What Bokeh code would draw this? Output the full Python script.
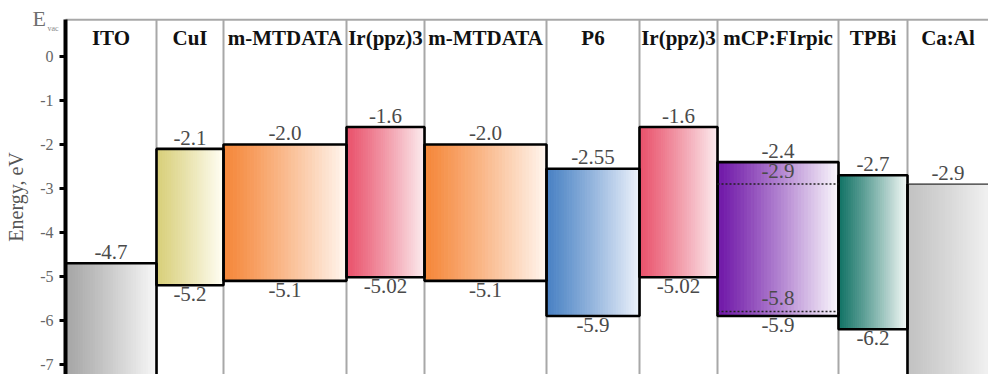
from bokeh.plotting import figure
from bokeh.models import Range1d, FixedTicker, ColumnDataSource
from bokeh.embed import file_html
from bokeh.resources import INLINE

# ---------------- data ----------------
layers = ["ITO", "CuI", "m-MTDATA", "Ir(ppz)3", "m-MTDATA", "P6",
          "Ir(ppz)3", "mCP:FIrpic", "TPBi", "Ca:Al"]
lumo = [-4.7, -2.1, -2.0, -1.6, -2.0, -2.55, -1.6, -2.4, -2.7, -2.9]
homo = [None, -5.2, -5.1, -5.02, -5.1, -5.9, -5.02, -5.9, -6.2, None]
lumo_labels = ["-4.7", "-2.1", "-2.0", "-1.6", "-2.0", "-2.55", "-1.6", "-2.4", "-2.7", "-2.9"]
homo_labels = ["", "-5.2", "-5.1", "-5.02", "-5.1", "-5.9", "-5.02", "-5.9", "-6.2", ""]
dopant_levels = [-2.9, -5.8]          # FIrpic inside mCP
dopant_labels = ["-2.9", "-5.8"]
dopant_layer = 7
y_ticks = [0, -1, -2, -3, -4, -5, -6, -7]

# ---------------- layout / style ----------------
column_widths = [91, 67, 123, 78, 122, 93, 78, 121, 69, 81]
start_colors = ["#a6a6a6", "#d8cf7a", "#f5873a", "#e9526c", "#f5873a",
                "#4a82c4", "#e9526c", "#7019a8", "#137366", "#c2c2c2"]
end_colors = ["#f6f6f6", "#fffdf2", "#fff4ec", "#fbe9ec", "#fff4ec",
              "#eaf0fa", "#fbe9ec", "#f8f4fb", "#f0f6f4", "#f0f0f0"]

BOX_TOP = 0.84                 # top edge of the table of layers
Y_TOP, Y_BOT = 1.275, -7.23    # visible energy range
FONT = "Liberation Serif"
LABEL_LIFT = 0.1    # eV gap between a level and the label above it
LEFT_MARGIN = 65    # room left of the energy axis (x units = pixels)

bounds = [0]
for w in column_widths:
    bounds.append(bounds[-1] + w)
X_MAX = bounds[-1]

p = figure(width=988, height=374, output_backend="svg", toolbar_location=None,
           x_range=Range1d(-LEFT_MARGIN, X_MAX), y_range=Range1d(Y_BOT, Y_TOP),
           x_axis_location=None, min_border_left=0, min_border_top=0,
           min_border_bottom=0, min_border_right=0)
p.outline_line_color = None
p.grid.visible = False
p.background_fill_color = "white"


def hex2rgb(h):
    h = h.lstrip("#")
    return [int(h[i:i + 2], 16) for i in (0, 2, 4)]


def lerp(c1, c2, t):
    a, b = hex2rgb(c1), hex2rgb(c2)
    return "#%02x%02x%02x" % tuple(int(round(a[k] + (b[k] - a[k]) * t)) for k in range(3))


# separators (behind boxes)
p.segment(x0=bounds[1:-1], x1=bounds[1:-1], y0=[Y_BOT - 1] * (len(bounds) - 2),
          y1=[BOX_TOP] * (len(bounds) - 2), line_color="#a8a8a8", line_width=2)
p.segment(x0=[0], x1=[X_MAX + 5], y0=[BOX_TOP], y1=[BOX_TOP],
          line_color="#a8a8a8", line_width=2)

# gradient strips
N = 36
sl, sr, st, sb, sc = [], [], [], [], []
for i in range(len(layers)):
    L, R = bounds[i], bounds[i + 1]
    T = lumo[i]
    B = homo[i] if homo[i] is not None else Y_BOT - 1
    for k in range(N):
        t = k / (N - 1)
        sl.append(L + (R - L) * k / N)
        sr.append(L + (R - L) * (k + 1) / N)
        st.append(T)
        sb.append(B)
        sc.append(lerp(start_colors[i], end_colors[i], t ** 1.1))
src = ColumnDataSource(dict(left=sl, right=sr, top=st, bottom=sb, color=sc))
p.quad(left="left", right="right", top="top", bottom="bottom", source=src,
       fill_color="color", line_color="color", line_width=1)

# box borders
bl, br, bt, bb = [], [], [], []
for i in range(len(layers) - 1):
    bl.append(bounds[i]); br.append(bounds[i + 1])
    bt.append(lumo[i]); bb.append(homo[i] if homo[i] is not None else Y_BOT - 1)
p.quad(left=bl, right=br, top=bt, bottom=bb, fill_color=None,
       line_color="black", line_width=2.6)
# cathode
last = len(layers) - 1
p.segment(x0=[bounds[last]], x1=[X_MAX], y0=[lumo[last]], y1=[lumo[last]],
          line_color="#333333", line_width=1.3)
p.segment(x0=[bounds[last]], x1=[bounds[last]], y0=[lumo[last]], y1=[Y_BOT - 1],
          line_color="black", line_width=2.6)

# dopant dotted levels
dl = bounds[dopant_layer]; dr = bounds[dopant_layer + 1]
p.segment(x0=[dl] * 2, x1=[dr] * 2, y0=dopant_levels, y1=dopant_levels,
          line_color="#222222", line_width=1.5, line_dash="2 2")

# text
cx = [(bounds[i] + bounds[i + 1]) / 2 for i in range(len(layers))]
p.text(x=cx, y=[0.42] * len(layers), text=layers,
       text_align="center", text_baseline="middle", text_font_size="21px",
       text_font_style="bold", text_color="#111111",
       text_font={"value": FONT})
p.text(x=cx, y=[v + LABEL_LIFT for v in lumo], text=lumo_labels,
       text_align="center", text_baseline="bottom", text_font_size="21px",
       text_color="#4a4a4a", text_font={"value": FONT})
hx = [cx[i] for i in range(len(layers)) if homo[i] is not None]
hy = [homo[i] - 0.04 for i in range(len(layers)) if homo[i] is not None]
ht = [homo_labels[i] for i in range(len(layers)) if homo[i] is not None]
p.text(x=hx, y=hy, text=ht, text_align="center", text_baseline="top",
       text_font_size="21px", text_color="#4a4a4a", text_font={"value": FONT})
p.text(x=[cx[dopant_layer]] * 2, y=[v + LABEL_LIFT + 0.04 for v in dopant_levels],
       text=dopant_labels, text_align="center", text_baseline="bottom",
       text_font_size="21px", text_color="#4a4a4a", text_font={"value": FONT})

# "E_vac" marker at the top of the energy axis
p.text(x=[-33], y=[0.58], text=["E"], text_align="left", text_baseline="bottom",
       text_font_size="22px", text_color="#6f6f6f", text_font={"value": FONT})
p.text(x=[-18], y=[0.53], text=["vac"], text_align="left", text_baseline="bottom",
       text_font_size="8px", text_color="#888888", text_font={"value": FONT})

# y axis, pinned at the left edge of the layer stack
ax = p.yaxis[0]
ax.fixed_location = 0
ax.bounds = (Y_BOT - 1, BOX_TOP)
ax.ticker = FixedTicker(ticks=y_ticks)
ax.major_label_overrides = {t: str(t) for t in y_ticks}
ax.axis_line_width = 4
ax.axis_line_color = "black"
ax.major_tick_line_width = 3
ax.major_tick_out = 6
ax.major_tick_in = 0
ax.minor_tick_line_color = None
ax.major_label_text_font = FONT
ax.major_label_text_font_size = "16px"
ax.major_label_text_color = "#666666"
ax.major_label_standoff = 6
ax.axis_label = "Energy, eV"
ax.axis_label_text_font = FONT
ax.axis_label_text_font_size = "20px"
ax.axis_label_text_font_style = "normal"
ax.axis_label_text_color = "#555555"
ax.axis_label_standoff = 10

open("out.html", "w").write(file_html(p, INLINE))
